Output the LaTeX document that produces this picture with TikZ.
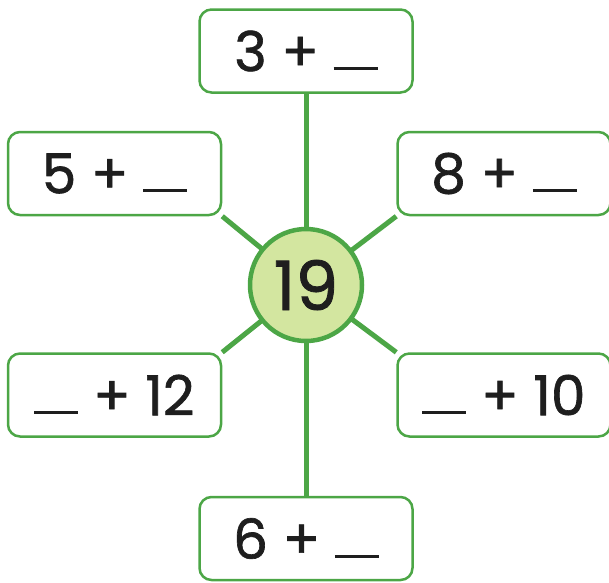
\documentclass[tikz,border=0pt]{standalone}
\usepackage{fontspec}
\setmainfont{Poppins}[FakeBold=1.2]
\usetikzlibrary{backgrounds}
\definecolor{gline}{RGB}{76,166,70}
\definecolor{cfill}{RGB}{211,230,160}
\definecolor{ink}{RGB}{30,30,30}
\newcommand{\blankline}{\rule[1pt]{44pt}{3pt}}
\begin{document}
\begin{tikzpicture}[x=1pt,y=-1pt,
  numbox/.style={draw=gline,line width=2.5pt,rounded corners=12pt,fill=white,
    minimum width=213pt,minimum height=83pt,inner sep=0pt,text=ink,
    font=\fontsize{55}{60}\selectfont},
  spoke/.style={draw=gline,line width=5pt},
  hub/.style={circle,draw=gline,line width=4.5pt,fill=cfill,minimum size=112pt,
    inner sep=0pt,text=ink,font=\fontsize{68}{72}\selectfont}]
\useasboundingbox (0,0) rectangle (609,582);
\node[numbox] (t) at (306,51) {3 + \blankline};
\node[numbox] (lt) at (114.5,173.5) {5 + \blankline};
\node[numbox] (rt) at (504,173.5) {8 + \blankline};
\node[numbox] (lb) at (114.5,395) {\blankline{} + 12};
\node[numbox] (rb) at (504,395) {\blankline{} + 10};
\node[numbox] (b) at (306,538.5) {6 + \blankline};
\node[hub] (h) at (306,285) {19};
\begin{scope}[on background layer]
\draw[spoke] (h.center) -- (t.south);
\draw[spoke] (h.center) -- (b.north);
\draw[spoke] (h.center) -- (lt.south east);
\draw[spoke] (h.center) -- (rt.south west);
\draw[spoke] (h.center) -- (lb.north east);
\draw[spoke] (h.center) -- (rb.north west);
\end{scope}
\end{tikzpicture}
\end{document}
